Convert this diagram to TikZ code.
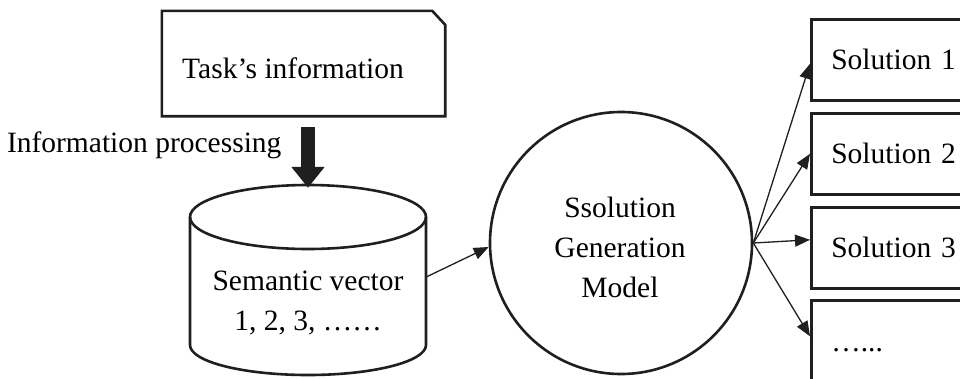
\documentclass[tikz,border=0pt]{standalone}
\usepackage{fontspec}
\setmainfont{Liberation Serif}
\usetikzlibrary{arrows.meta}

\tikzset{
  outline/.style={draw=black!88, line width=2.6pt},
  solbox/.style={outline, rectangle, anchor=north west, minimum height=81pt,
    inner xsep=20pt, text width=140pt, align=left},
  thinarrow/.style={draw=black!88, line width=1.3pt, -{Triangle[length=15pt,width=12pt]}},
  bigarrow/.style={draw=black!88, line width=14pt, -{Triangle[length=21pt,width=32pt]}}
}

\begin{document}
\begin{tikzpicture}[x=1pt, y=-1pt, font=\fontsize{29.5}{40}\selectfont]
  \useasboundingbox (0,0) rectangle (960,378);
  \clip (0,0) rectangle (960,378);

  % task card with cut corner
  \node[minimum width=283pt, minimum height=105pt, inner sep=0pt] (task) at (303.5,63.5) {};
  \draw[outline, line join=miter] (task.south west) -- (task.north west) -- ([xshift=-13pt]task.north east)
    -- ([yshift=-14pt]task.north east) -- (task.south east) -- cycle;
  \node (tasktext) at (293,68) {Task’s information};

  % database
  \node[minimum width=236pt, minimum height=190pt, inner sep=0pt] (cyl) at (308,280) {};
  \draw[outline] (190,217) -- (190,345) arc[start angle=180, end angle=0, x radius=118, y radius=30]
    -- (426,217);
  \draw[outline] (308,217) ellipse[x radius=118, y radius=32];
  \node[align=center] (cyltext) at (308,303) {Semantic vector\\1, 2, 3, ……};

  \draw[bigarrow] ([yshift=-11pt]task.south -| cyl.north) -- ([yshift=-3pt]cyl.north);
  \node[anchor=east] (proc) at (285,145) {Information processing};

  \node[outline, circle, minimum size=262pt] (gen) at (621,243) {};
  \node[align=center] (gentext) at (620,247) {Ssolution\\Generation\\Model};
  \draw[thinarrow] ([yshift=3pt]cyl.east) -- ([yshift=-4pt]gen.west);

  \node[solbox] (sol1) at (810,18) {Solution 1};
  \node[solbox] (sol2) at (810,112) {Solution 2};
  \node[solbox] (sol3) at (810,206) {Solution 3};
  \node[solbox, minimum height=100pt] (sol4) at (810,299) {…...};

  \draw[thinarrow] (gen.east) -- ([yshift=-4pt]sol1.west);
  \draw[thinarrow] (gen.east) -- (sol2.west);
  \draw[thinarrow] (gen.east) -- ([yshift=8pt]sol3.west);
  \draw[thinarrow] (gen.east) -- ([yshift=14pt]sol4.west);
\end{tikzpicture}
\end{document}
